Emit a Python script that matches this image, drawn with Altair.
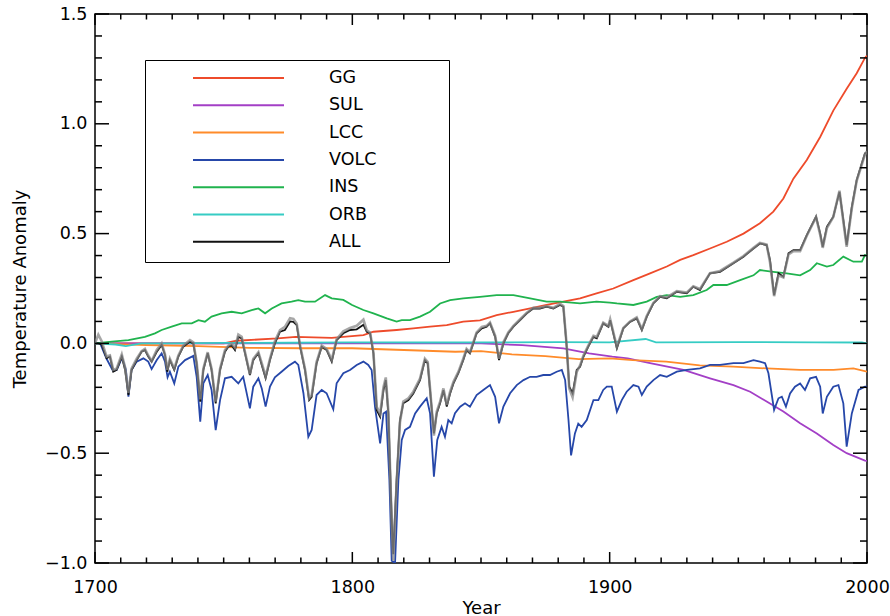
import altair as alt
import pandas as pd

SERIES = ["GG", "SUL", "LCC", "VOLC", "INS", "ORB", "ALL"]
COLORS = ["#ee4b2b", "#a33fc6", "#ff8b2a", "#2647a9", "#20b34e", "#36ccc4", "#111111"]

GG_YEARS = [1700, 1750, 1755, 1771, 1778, 1792, 1804.3, 1808.2, 1817.2, 1823.7,
            1830.2, 1836.7, 1843.1, 1849.6, 1856.1, 1862.6, 1869.1, 1875.5, 1882.0, 1888.5,
            1894.9, 1901.4, 1909.2, 1915.7, 1922.2, 1927.4, 1932.5, 1939.0, 1945.5, 1952.0,
            1958.4, 1963.6, 1967.5, 1971.4, 1976.6, 1981.8, 1986.9, 1992.1, 1996.0, 1999.2,
            2000]
GG_VALUES = [0.0, 0.0, 0.012, 0.023, 0.03, 0.025, 0.038, 0.053, 0.061, 0.068,
             0.076, 0.083, 0.099, 0.105, 0.129, 0.144, 0.159, 0.175, 0.19, 0.205,
             0.228, 0.25, 0.288, 0.319, 0.35, 0.38, 0.402, 0.432, 0.463, 0.5,
             0.547, 0.6, 0.66, 0.75, 0.835, 0.94, 1.06, 1.16, 1.23, 1.3,
             1.31]

SUL_YEARS = [1700, 1850, 1866, 1882, 1892, 1901, 1907, 1915.7, 1928.7, 1939,
             1948.1, 1954.6, 1961.0, 1967.5, 1974.0, 1980.5, 1986.9, 1992.1, 1999.2, 2000]
SUL_VALUES = [0.0, 0.0, -0.008, -0.023, -0.045, -0.06, -0.068, -0.09, -0.121, -0.159,
              -0.19, -0.22, -0.265, -0.31, -0.364, -0.41, -0.463, -0.5, -0.534, -0.535]

LCC_YEARS = [1700, 1720, 1740, 1760, 1780, 1800, 1820, 1840, 1850, 1862,
             1875, 1888, 1900, 1909, 1922, 1935, 1948, 1961, 1974, 1987,
             1994.7, 2000]
LCC_VALUES = [0.0, -0.008, -0.012, -0.02, -0.022, -0.022, -0.03, -0.038, -0.035, -0.05,
              -0.058, -0.072, -0.068, -0.076, -0.083, -0.1, -0.106, -0.114, -0.121, -0.121,
              -0.114, -0.129]

VOLC_YEARS = [1700, 1702.0, 1704.5, 1707.0, 1708.5, 1710.5, 1712.0, 1713.0, 1714.2, 1716.2,
              1718.8, 1720.7, 1722.0, 1724.0, 1725.9, 1727.2, 1728.2, 1729.1, 1730.8, 1732.4,
              1735.0, 1738.2, 1739.5, 1740.9, 1742.1, 1743.8, 1745.3, 1746.9, 1748.6, 1750.5,
              1753.1, 1755.7, 1757.6, 1760.2, 1761.5, 1763.5, 1764.8, 1766.3, 1768.0, 1769.9,
              1772.5, 1775.1, 1777.7, 1779.0, 1781.0, 1782.9, 1784.2, 1786.1, 1788.1, 1790.0,
              1792.6, 1793.9, 1796.5, 1799.1, 1801.7, 1804.3, 1806.2, 1807.5, 1808.8, 1810.8,
              1812.1, 1813.1, 1814.4, 1815.3, 1816.6, 1817.9, 1819.2, 1820.5, 1822.4, 1824.4,
              1826.3, 1828.9, 1830.2, 1831.7, 1833.0, 1834.7, 1836.0, 1837.3, 1838.6, 1839.9,
              1841.9, 1843.8, 1845.7, 1848.3, 1850.9, 1853.5, 1855.5, 1857.0, 1858.7, 1861.3,
              1863.9, 1866.5, 1869.1, 1871.6, 1874.2, 1876.8, 1879.4, 1881.4, 1882.7, 1884.0,
              1885.0, 1886.5, 1887.8, 1889.1, 1891.1, 1893.7, 1895.6, 1897.5, 1898.9, 1900.8,
              1902.8, 1904.7, 1906.6, 1909.2, 1911.2, 1912.5, 1914.4, 1917.0, 1919.6, 1922.2,
              1926.1, 1930.0, 1935.1, 1939.0, 1942.9, 1948.1, 1952.0, 1955.9, 1958.4, 1960.4,
              1961.7, 1963.9, 1965.6, 1966.9, 1968.5, 1970.1, 1972.0, 1974.0, 1975.9, 1977.9,
              1980.2, 1981.8, 1982.8, 1984.4, 1986.9, 1988.9, 1990.8, 1992.1, 1994.1, 1996.7,
              1999.2, 2000]
VOLC_VALUES = [0.0, 0.0, -0.07, -0.125, -0.12, -0.065, -0.12, -0.243, -0.121, -0.083,
               -0.068, -0.083, -0.117, -0.076, -0.045, -0.083, -0.154, -0.129, -0.182, -0.106,
               -0.076, -0.057, -0.152, -0.356, -0.182, -0.144, -0.212, -0.395, -0.258, -0.159,
               -0.152, -0.182, -0.152, -0.296, -0.197, -0.159, -0.205, -0.288, -0.197, -0.155,
               -0.129, -0.103, -0.083, -0.098, -0.227, -0.425, -0.394, -0.235, -0.212, -0.227,
               -0.30, -0.182, -0.136, -0.121, -0.098, -0.083, -0.098, -0.121, -0.288, -0.455,
               -0.319, -0.311, -0.622, -0.99, -1.0, -0.622, -0.44, -0.394, -0.38, -0.319,
               -0.288, -0.25, -0.318, -0.607, -0.44, -0.38, -0.425, -0.349, -0.364, -0.318,
               -0.288, -0.273, -0.288, -0.235, -0.212, -0.19, -0.243, -0.364, -0.288, -0.227,
               -0.19, -0.167, -0.152, -0.152, -0.144, -0.144, -0.129, -0.121, -0.167, -0.349,
               -0.51, -0.41, -0.365, -0.38, -0.349, -0.258, -0.258, -0.212, -0.197, -0.197,
               -0.311, -0.258, -0.22, -0.19, -0.197, -0.235, -0.197, -0.167, -0.144, -0.152,
               -0.129, -0.121, -0.114, -0.098, -0.098, -0.09, -0.09, -0.076, -0.083, -0.09,
               -0.136, -0.303, -0.25, -0.243, -0.288, -0.228, -0.197, -0.182, -0.212, -0.159,
               -0.152, -0.197, -0.319, -0.243, -0.197, -0.19, -0.273, -0.47, -0.319, -0.212,
               -0.197, -0.197]

INS_YEARS = [1700, 1706.5, 1713.0, 1719.4, 1723.3, 1725.9, 1729.8, 1733.7, 1737.6, 1740.2,
             1742.7, 1745.3, 1749.2, 1753.1, 1757.0, 1760.9, 1763.5, 1766.1, 1768.7, 1772.5,
             1776.4, 1779.0, 1781.6, 1785.5, 1789.4, 1792.0, 1796.5, 1799.9, 1804.3, 1808.2,
             1813.4, 1817.2, 1819.2, 1822.4, 1826.3, 1830.2, 1834.1, 1838.0, 1843.1, 1849.6,
             1856.1, 1862.6, 1869.1, 1875.5, 1880.7, 1888.5, 1894.9, 1900.1, 1902.8, 1909.2,
             1914.4, 1918.3, 1922.2, 1927.4, 1932.5, 1937.7, 1940.3, 1945.5, 1950.7, 1955.9,
             1958.4, 1963.6, 1968.8, 1974.0, 1977.9, 1980.5, 1984.4, 1986.9, 1990.8, 1994.7,
             1998.0, 1999.2, 2000]
INS_VALUES = [0.0, 0.008, 0.015, 0.03, 0.046, 0.061, 0.076, 0.091, 0.091, 0.106,
              0.099, 0.122, 0.137, 0.144, 0.137, 0.152, 0.159, 0.137, 0.159, 0.182,
              0.19, 0.197, 0.19, 0.19, 0.22, 0.205, 0.198, 0.175, 0.152, 0.137,
              0.114, 0.099, 0.106, 0.106, 0.122, 0.144, 0.182, 0.197, 0.205, 0.212,
              0.22, 0.22, 0.205, 0.19, 0.19, 0.182, 0.19, 0.186, 0.182, 0.175,
              0.19, 0.212, 0.22, 0.212, 0.22, 0.243, 0.266, 0.266, 0.288, 0.31,
              0.334, 0.326, 0.319, 0.31, 0.334, 0.365, 0.35, 0.357, 0.395, 0.372,
              0.372, 0.402, 0.40]

ORB_YEARS = [1700, 1708, 1712, 1718, 1730, 1750, 1775, 1800, 1830, 1860,
             1880, 1900, 1914, 1918, 1950, 1980, 1998, 2000]
ORB_VALUES = [0.0, -0.005, -0.012, 0.0, 0.0, 0.002, 0.003, 0.005, 0.004, 0.005,
              0.006, 0.005, 0.02, 0.005, 0.006, 0.005, 0.004, 0.0]

ALL_YEARS = [1700, 1701.3, 1702.6, 1704.5, 1705.8, 1707.1, 1708.4, 1710.4, 1711.7, 1713.0,
             1714.2, 1716.2, 1718.1, 1719.4, 1720.7, 1722.0, 1724.0, 1725.9, 1727.2, 1728.1,
             1729.1, 1730.8, 1732.4, 1734.3, 1736.9, 1738.2, 1739.5, 1740.9, 1742.1, 1743.8,
             1745.3, 1746.9, 1748.6, 1750.5, 1751.8, 1753.1, 1754.4, 1755.7, 1757.0, 1758.3,
             1760.2, 1761.5, 1763.5, 1764.8, 1766.3, 1768.0, 1769.9, 1771.9, 1773.8, 1775.8,
             1777.1, 1778.4, 1779.7, 1781.6, 1783.2, 1784.2, 1786.1, 1788.1, 1790.0, 1792.0,
             1793.9, 1796.5, 1799.1, 1801.7, 1804.3, 1805.6, 1806.9, 1808.2, 1809.5, 1810.8,
             1812.1, 1813.0, 1814.0, 1815.3, 1815.9, 1817.2, 1818.5, 1819.8, 1821.8, 1823.7,
             1826.3, 1828.2, 1829.3, 1830.2, 1831.7, 1832.8, 1834.1, 1835.4, 1836.7, 1838.0,
             1839.3, 1841.2, 1843.1, 1844.4, 1845.7, 1847.0, 1848.3, 1850.3, 1852.2, 1853.5,
             1855.5, 1857.0, 1858.7, 1860.6, 1862.6, 1865.2, 1867.8, 1870.3, 1872.9, 1875.5,
             1878.1, 1880.7, 1882.0, 1883.3, 1884.3, 1885.6, 1887.2, 1888.5, 1889.8, 1891.7,
             1893.7, 1895.0, 1897.5, 1899.5, 1900.2, 1902.8, 1905.3, 1907.9, 1910.5, 1912.5,
             1914.4, 1917.0, 1919.6, 1922.2, 1926.1, 1930.0, 1932.5, 1935.1, 1939.0, 1942.9,
             1948.1, 1952.0, 1955.9, 1958.4, 1961.0, 1962.3, 1963.9, 1965.6, 1967.5, 1969.5,
             1971.4, 1974.0, 1976.6, 1980.2, 1981.8, 1982.8, 1984.4, 1986.9, 1989.3, 1990.8,
             1992.1, 1994.1, 1996.0, 1998.0, 1999.2, 2000]
ALL_VALUES = [0.0, 0.0, -0.005, -0.068, -0.06, -0.129, -0.121, -0.06, -0.121, -0.235,
              -0.121, -0.076, -0.038, -0.03, -0.06, -0.083, -0.038, -0.007, -0.053, -0.129,
              -0.076, -0.121, -0.06, -0.015, 0.008, 0.0, -0.091, -0.265, -0.121, -0.045,
              -0.121, -0.273, -0.121, -0.038, -0.015, -0.008, -0.03, 0.03, 0.023, -0.045,
              -0.144, -0.076, -0.045, -0.098, -0.159, -0.076, 0.0, 0.053, 0.061, 0.1,
              0.098, 0.083, -0.015, -0.121, -0.258, -0.243, -0.091, -0.015, -0.03, -0.083,
              0.015, 0.046, 0.061, 0.064, 0.085, 0.053, 0.046, -0.046, -0.304, -0.334,
              -0.213, -0.167, -0.319, -0.80, -0.96, -0.622, -0.35, -0.273, -0.258, -0.228,
              -0.167, -0.076, -0.091, -0.213, -0.41, -0.319, -0.273, -0.213, -0.288, -0.228,
              -0.182, -0.136, -0.076, -0.03, -0.045, 0.0, 0.046, 0.068, 0.076, 0.091,
              0.03, -0.076, 0.0, 0.046, 0.076, 0.106, 0.137, 0.159, 0.159, 0.167,
              0.159, 0.175, 0.167, -0.015, -0.197, -0.228, -0.121, -0.106, -0.061, -0.015,
              0.03, 0.023, 0.091, 0.076, 0.106, -0.023, 0.068, 0.098, 0.114, 0.061,
              0.121, 0.182, 0.212, 0.205, 0.235, 0.228, 0.258, 0.243, 0.319, 0.326,
              0.365, 0.395, 0.432, 0.455, 0.448, 0.38, 0.22, 0.319, 0.304, 0.41,
              0.425, 0.425, 0.493, 0.577, 0.501, 0.44, 0.531, 0.577, 0.69, 0.562,
              0.448, 0.622, 0.744, 0.82, 0.865, 0.87]

# second (grey) curve plotted over ALL, same sampling years as ALL
GREY_VALUES = [0.0, 0.04, 0.01, -0.06, -0.055, -0.12, -0.115, -0.05, -0.11, -0.225,
               -0.115, -0.07, -0.035, -0.025, -0.055, -0.08, -0.03, 0.0, -0.05, -0.12,
               -0.07, -0.115, -0.055, -0.01, 0.015, 0.005, -0.085, -0.255, -0.115, -0.04,
               -0.115, -0.265, -0.115, -0.03, -0.01, 0.0, -0.02, 0.04, 0.03, -0.04,
               -0.14, -0.07, -0.04, -0.09, -0.15, -0.07, 0.01, 0.06, 0.075, 0.115,
               0.112, 0.09, -0.01, -0.115, -0.25, -0.235, -0.085, -0.01, -0.025, -0.075,
               0.02, 0.055, 0.07, 0.08, 0.108, 0.06, 0.05, -0.04, -0.29, -0.32,
               -0.2, -0.155, -0.31, -0.82, -0.99, -0.64, -0.36, -0.265, -0.25, -0.22,
               -0.16, -0.07, -0.085, -0.205, -0.42, -0.31, -0.265, -0.205, -0.28, -0.22,
               -0.175, -0.13, -0.07, -0.025, -0.04, 0.005, 0.05, 0.075, 0.08, 0.095,
               0.035, -0.07, 0.005, 0.05, 0.08, 0.11, 0.14, 0.162, 0.163, 0.17,
               0.162, 0.18, 0.17, -0.01, -0.205, -0.245, -0.13, -0.1, -0.055, -0.01,
               0.035, 0.03, 0.095, 0.08, 0.11, -0.015, 0.07, 0.1, 0.118, 0.065,
               0.125, 0.185, 0.215, 0.21, 0.238, 0.232, 0.26, 0.248, 0.32, 0.33,
               0.368, 0.398, 0.435, 0.458, 0.45, 0.37, 0.215, 0.31, 0.3, 0.405,
               0.42, 0.42, 0.49, 0.575, 0.495, 0.435, 0.525, 0.575, 0.695, 0.555,
               0.44, 0.615, 0.74, 0.815, 0.86, 0.875]

X_LABELS = [1700, 1800, 1900, 2000]
Y_LABELS = [-1.0, -0.5, 0.0, 0.5, 1.0, 1.5]
X_MINOR = [y for y in range(1700, 2001, 10) if y % 100 != 0]
Y_MINOR = [round(k * 0.1, 1) for k in range(-10, 16) if k % 5 != 0]

W, H = 772, 549
FONT = "DejaVu Sans"

x_scale = alt.Scale(domain=[1700, 2000], nice=False, zero=False)
y_scale = alt.Scale(domain=[-1.0, 1.5], nice=False, zero=False)

x_axis = alt.Axis(values=X_LABELS, format="d", title="Year", grid=False, domain=False,
                  ticks=False, tickSize=0, labelPadding=15, labelFontSize=17.5,
                  labelFlush=False, labelOverlap=False, labelColor="black",
                  titleFontSize=18, titleFontWeight="normal", titleColor="black",
                  titleBaseline="alphabetic", titleY=50)
y_axis = alt.Axis(values=Y_LABELS, format=".1f", title="Temperature Anomaly", grid=False,
                  domain=False, ticks=False, tickSize=0, labelPadding=8, labelFontSize=17.5,
                  labelFlush=False, labelOverlap=False, labelColor="black",
                  titleFontSize=18, titleFontWeight="normal", titleColor="black",
                  titleAngle=270, titleBaseline="middle", titleAlign="center",
                  titleX=-75, titleY=H / 2)

# trailing no-break spaces (kept by a final zero-width char) widen the legend box
PAD = "\u00a0" * 11 + "\u200b"
legend = alt.Legend(title=None, orient="none", legendX=50, legendY=46, direction="vertical",
                    symbolType="stroke", symbolSize=8281, symbolStrokeWidth=2,
                    clipHeight=14, rowPadding=9.3, padding=11, symbolOffset=36,
                    labelOffset=44, labelFont=FONT, labelFontSize=17.5, labelColor="black",
                    labelLimit=400, strokeColor="black",
                    labelExpr="datum.label + '" + PAD + "'")
color_enc = alt.Color("series:N", scale=alt.Scale(domain=SERIES, range=COLORS), legend=legend)

data_map = {
    "GG": (GG_YEARS, GG_VALUES),
    "SUL": (SUL_YEARS, SUL_VALUES),
    "LCC": (LCC_YEARS, LCC_VALUES),
    "VOLC": (VOLC_YEARS, VOLC_VALUES),
    "INS": (INS_YEARS, INS_VALUES),
    "ORB": (ORB_YEARS, ORB_VALUES),
    "ALL": (ALL_YEARS, ALL_VALUES),
}


def X(field):
    return alt.X(field, scale=x_scale, axis=x_axis)


def Y(field):
    return alt.Y(field, scale=y_scale, axis=y_axis)


layers = []
for name in SERIES:
    yrs, vals = data_map[name]
    df = pd.DataFrame({"year": yrs, "value": vals, "series": name})
    layers.append(
        alt.Chart(df).mark_line(strokeWidth=1.8, clip=True).encode(
            x=X("year:Q"), y=Y("value:Q"), color=color_enc,
        )
    )

grey_df = pd.DataFrame({"year": ALL_YEARS, "value": GREY_VALUES})
layers.append(
    alt.Chart(grey_df).mark_line(strokeWidth=2.6, clip=True, opacity=0.75, color="#8a8a8a").encode(
        x=X("year:Q"), y=Y("value:Q"),
    )
)


def x_ticks(vals, length, top):
    df = pd.DataFrame({"year": vals})
    if top:
        ys = dict(y=alt.value(0), y2=alt.value(length))
    else:
        ys = dict(y=alt.value(H), y2=alt.value(H - length))
    return alt.Chart(df).mark_rule(color="black", strokeWidth=1.5).encode(
        x=X("year:Q"), **ys)


def y_ticks(vals, length, right):
    df = pd.DataFrame({"value": vals})
    if right:
        xs = dict(x=alt.value(W), x2=alt.value(W - length))
    else:
        xs = dict(x=alt.value(0), x2=alt.value(length))
    return alt.Chart(df).mark_rule(color="black", strokeWidth=1.5).encode(
        y=Y("value:Q"), **xs)


layers += [
    x_ticks(X_LABELS, 11, False), x_ticks(X_LABELS, 11, True),
    x_ticks(X_MINOR, 5.5, False), x_ticks(X_MINOR, 5.5, True),
    y_ticks(Y_LABELS, 14, False), y_ticks(Y_LABELS, 14, True),
    y_ticks(Y_MINOR, 7, False), y_ticks(Y_MINOR, 7, True),
]

chart = alt.layer(*layers).properties(
    width=W, height=H,
    padding={"left": 95, "top": 14, "right": 23, "bottom": 53},
    autosize=alt.AutoSizeParams(type="none"),
    background="white",
).configure(font=FONT).configure_view(stroke="black", strokeWidth=1.5)

chart.save("out.html", embed_options={"renderer": "svg", "actions": False})
